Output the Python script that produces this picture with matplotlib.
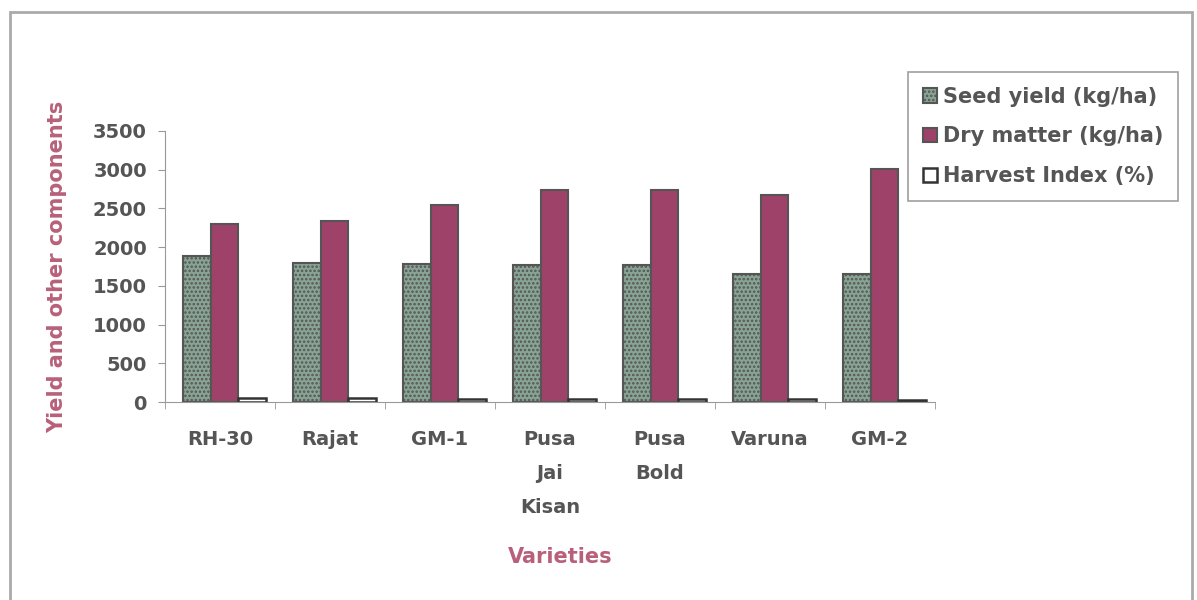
import matplotlib.pyplot as plt
import numpy as np
from matplotlib.patches import Rectangle

varieties = ['RH-30', 'Rajat', 'GM-1', 'Pusa\nJai\nKisan', 'Pusa\nBold', 'Varuna', 'GM-2']
seed_yield = [1890, 1800, 1785, 1765, 1765, 1655, 1655]
dry_matter = [2300, 2340, 2540, 2735, 2735, 2675, 3015]
harvest_index = [50, 48, 38, 36, 35, 34, 30]

plt.rcParams['font.family'] = ['DejaVu Sans']
plt.rcParams['hatch.color'] = '#b4cdbf'
plt.rcParams['hatch.linewidth'] = 1.2
txt = '#555555'
pink = '#b8607a'

fig = plt.figure(figsize=(11.97, 6), dpi=100)
ax = fig.add_axes([165 / 1197, 1 - 402 / 600, 770 / 1197, 271 / 600])

x = np.arange(len(varieties)) + 0.04
w = 0.25
ax.bar(x - w, seed_yield, w, color='#88a494', edgecolor='#555555', linewidth=1.5,
       hatch='....', label='Seed yield (kg/ha)')
ax.bar(x, dry_matter, w, color='#9f4269', edgecolor='#555555', linewidth=1.5,
       label='Dry matter (kg/ha)')
ax.bar(x + w, harvest_index, w, color='white', edgecolor='#333333', linewidth=1.8,
       label='Harvest Index (%)')

ax.set_xlim(-0.5, 6.5)
ax.set_ylim(0, 3500)
ax.set_yticks(range(0, 3501, 500))
ax.set_xticks(np.arange(len(varieties)))
ax.set_xticklabels(varieties, fontsize=14, fontweight='bold', color=txt, linespacing=2.0)
ax.set_xticks(np.arange(-0.5, 7, 1), minor=True)
ax.tick_params(axis='x', which='major', length=0, pad=20)
ax.tick_params(axis='x', which='minor', length=5, color='#999999')
ax.tick_params(axis='y', length=5, color='#999999', labelsize=14, labelcolor=txt, pad=8)
for lab in ax.get_yticklabels():
    lab.set_fontweight('bold')
for s in ['top', 'right']:
    ax.spines[s].set_visible(False)
for s in ['left', 'bottom']:
    ax.spines[s].set_color('#999999')

fig.text(57 / 1197, 1 - 267 / 600, 'Yield and other components', fontsize=15, fontweight='bold',
         color=pink, rotation=90, ha='center', va='center')
fig.text(560 / 1197, 1 - 557 / 600, 'Varieties', fontsize=15, fontweight='bold', color=pink,
         ha='center', va='center')

leg = fig.legend(loc='upper left', bbox_to_anchor=(908 / 1197, 1 - 72 / 600), fontsize=15,
                 frameon=True, fancybox=False, edgecolor='#888888', handlelength=0.7,
                 handleheight=0.7, handletextpad=0.3, labelspacing=0.95, borderpad=0.7,
                 borderaxespad=0)
leg.get_frame().set_linewidth(1.2)
for t in leg.get_texts():
    t.set_fontweight('bold')
    t.set_color(txt)

fig.patches.append(Rectangle((10 / 1197, -0.1), 1182 / 1197, 1.1 - 12 / 600,
                             transform=fig.transFigure, fill=False, edgecolor='#aaaaaa',
                             linewidth=2))

fig.savefig('out.png', dpi=100)
